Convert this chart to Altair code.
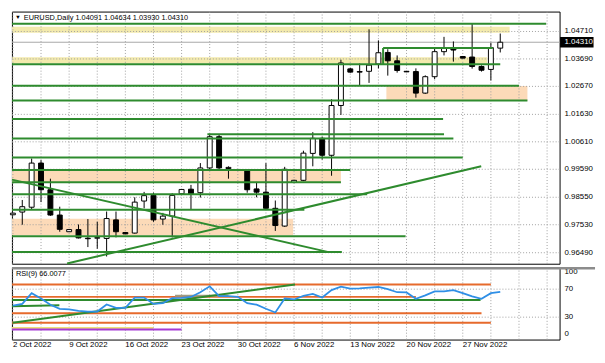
import altair as alt
import pandas as pd

# ---------------- data ----------------
# one bar per trading day incl. the short Sunday bars, 2 Oct 2022 .. 1 Dec 2022
opens = [0.9790, 0.9800, 0.9818, 0.9982, 0.9883, 0.9789,
         0.9727, 0.9735, 0.9703, 0.9703, 0.9702, 0.9771,
         0.9724, 0.9722, 0.9841, 0.9862, 0.9774, 0.9785,
         0.9868, 0.9885, 0.9872, 0.9964, 1.0080, 0.9962,
         0.9958, 0.9955, 0.9886, 0.9874, 0.9814, 0.9748,
         0.9910, 0.9918, 1.0018, 1.0074, 1.0011, 1.0196,
         1.0332, 1.0322, 1.0323, 1.0350, 1.0393, 1.0362,
         1.0323, 1.0322, 1.0242, 1.0303, 1.0396, 1.0409,
         1.0378, 1.0376, 1.0341, 1.0330, 1.04091]
highs = [0.9797, 0.9845, 0.9999, 0.9993, 0.9924, 0.9820,
         0.9736, 0.9754, 0.9774, 0.9764, 0.9802, 0.9802,
         0.9725, 0.9855, 0.9875, 0.9872, 0.9797, 0.9870,
         0.9886, 0.9901, 0.9982, 1.0091, 1.0090, 0.9970,
         0.9960, 0.9960, 0.9912, 0.9982, 0.9843, 0.9968,
         0.9920, 1.0028, 1.0097, 1.0080, 1.0219, 1.0366,
         1.0336, 1.0352, 1.0479, 1.0438, 1.0405, 1.0382,
         1.0324, 1.0334, 1.0308, 1.0413, 1.0451, 1.0434,
         1.0379, 1.0500, 1.0345, 1.0429, 1.04634]
lows = [0.9789, 0.9753, 0.9808, 0.9837, 0.9786, 0.9727,
        0.9726, 0.9702, 0.9670, 0.9664, 0.9635, 0.9706,
        0.9718, 0.9720, 0.9814, 0.9764, 0.9753, 0.9706,
        0.9866, 0.9808, 0.9854, 0.9960, 0.9953, 0.9924,
        0.9953, 0.9872, 0.9855, 0.9812, 0.9730, 0.9745,
        0.9909, 0.9915, 0.9970, 0.9995, 0.9935, 1.0161,
        1.0318, 1.0271, 1.0280, 1.0334, 1.0307, 1.0318,
        1.0320, 1.0225, 1.0239, 1.0294, 1.0382, 1.0359,
        1.0371, 1.0333, 1.0322, 1.0289, 1.03930]
closes = [0.9796, 0.9820, 0.9982, 0.9883, 0.9789, 0.9736,
          0.9735, 0.9704, 0.9701, 0.9705, 0.9776, 0.9727,
          0.9719, 0.9837, 0.9861, 0.9771, 0.9785, 0.9862,
          0.9884, 0.9868, 0.9964, 1.0080, 0.9964, 0.9966,
          0.9955, 0.9883, 0.9874, 0.9814, 0.9750, 0.9959,
          0.9918, 1.0019, 1.0074, 1.0011, 1.0196, 1.0354,
          1.0320, 1.0320, 1.0346, 1.0392, 1.0362, 1.0326,
          1.0321, 1.0242, 1.0303, 1.0396, 1.0408, 1.0402,
          1.0372, 1.0341, 1.0327, 1.0411, 1.04310]
rsi_values = [46.4, 49.0, 64.3, 56.7, 47.8, 42.0,
              41.0, 38.9, 38.0, 38.0, 48.2, 43.3,
              43.3, 58.0, 58.0, 49.0, 50.0, 57.1,
              57.5, 58.9, 65.6, 74.0, 60.2, 60.0,
              59.0, 50.0, 47.8, 42.0, 36.7, 56.7,
              55.3, 60.5, 63.3, 58.0, 68.7, 73.6,
              70.9, 71.1, 72.2, 73.1, 70.0, 65.6,
              65.3, 56.2, 61.1, 66.9, 66.9, 68.7,
              64.3, 59.8, 56.2, 64.3, 66.0]
bars = list(range(len(closes)))

price_ticks = [0.96490, 0.97530, 0.98550, 0.99590, 1.00610,
               1.01630, 1.02670, 1.03690, 1.04710]
current_price = 1.04310
date_label_bars = [0, 6, 12, 18, 24, 30, 36, 42, 48]
date_labels = ["2 Oct 2022", "9 Oct 2022", "16 Oct 2022", "23 Oct 2022",
               "30 Oct 2022", "6 Nov 2022", "13 Nov 2022", "20 Nov 2022",
               "27 Nov 2022"]
grid_bars = list(range(0, 58, 3))
rsi_ticks = [100, 70, 30, 0]
rsi_tick_anchor = ["top", "middle", "middle", "bottom"]
rsi_levels = [70, 30]
title_text = "EURUSD,Daily 1.04091 1.04634 1.03930 1.04310"
rsi_title = "RSI(9) 66.0077"

# drawn objects on the price window
green_level_price = [1.04998, 1.04096, 1.03496, 1.02697, 1.02142, 1.01459, 1.00893,
                     1.00730, 1.00026, 0.99561, 0.99110, 0.98659, 0.98090, 0.97104, 0.96514]
green_level_start = [-0.1, 39.5, -0.1, -0.1, -0.1, -0.1, 20.75,
                     -0.1, -0.1, -0.1, -0.1, -0.1, -0.1, -0.1, -0.1]
green_level_end = [56.9, 51.2, 52.0, 54.0, 54.9, 45.9, 46.0,
                   47.0, 48.0, 36.0, 35.0, 37.8, 31.1, 41.9, 35.1]
green_vertical = {"k": [39.5], "p1": [1.04096], "p2": [1.03496]}
zone_low = [1.04661, 1.03523, 1.02129, 0.99099, 0.97139]
zone_high = [1.04883, 1.03749, 1.02684, 0.99540, 0.97756]
zone_start = [-0.1, -0.1, 39.85, -0.1, -0.1]
zone_end = [53.0, 50.6, 54.9, 35.0, 29.9]
zone_kind = ["yellow", "yellow", "peach", "peach", "peach"]
trend_k1 = [-0.1, 5.78]
trend_p1 = [0.99207, 0.96091]
trend_k2 = [33.69, 49.97]
trend_p2 = [0.96511, 0.99700]

# drawn objects on the RSI window
rsi_hline_value = [76.7, 59.0, 35.7, 22.0, 54.4, 14.4, 12.3, 60.7]
rsi_hline_start = [-0.1, -0.1, -0.1, -0.1, -0.1, -0.1, -0.1, 17.3]
rsi_hline_end = [51.0, 43.0, 50.0, 51.0, 49.9, 15.0, 18.0, 23.0]
rsi_hline_kind = ["orange", "orange", "orange", "orange", "green", "yellow",
                  "purple", "olive"]
rsi_trend_k1 = [-0.03, -0.1]
rsi_trend_v1 = [22.0, 45.6]
rsi_trend_k2 = [30.1, 4.96]
rsi_trend_v2 = [76.7, 46.9]

# ---------------- styling ----------------
W = 556
H_MAIN = 256
H_RSI = 73
X_DOMAIN = [-0.103, 58.33]
P_DOMAIN = [0.96081, 1.05449]
R_DOMAIN = [-2.0, 100.7]
FONT = "Liberation Sans"
GREEN = "#2e8b2e"
GRID = "#a0a0a0"
palette = {"yellow": "#f3eaad", "peach": "#fcdab8"}
line_palette = {"orange": "#e66a2c", "green": GREEN, "yellow": "#ebe17a",
                "purple": "#a63ad6", "olive": "#a09a80"}

xs = alt.Scale(domain=X_DOMAIN, nice=False, zero=False, padding=0)
ps = alt.Scale(domain=P_DOMAIN, nice=False, zero=False, padding=0)
rs = alt.Scale(domain=R_DOMAIN, nice=False, zero=False, padding=0)

# ---------------- tables ----------------
candles = pd.DataFrame({"k": bars, "open": opens, "high": highs,
                        "low": lows, "close": closes})
rsi_df = pd.DataFrame({"k": bars, "rsi": rsi_values})
zones_df = pd.DataFrame({"lo": zone_low, "hi": zone_high, "k1": zone_start,
                         "k2": zone_end,
                         "fill": [palette[z] for z in zone_kind]})
green_df = pd.DataFrame({"p": green_level_price, "k1": green_level_start,
                         "k2": green_level_end})
vert_df = pd.DataFrame(green_vertical)
trend_df = pd.DataFrame({"k1": trend_k1, "p1": trend_p1, "k2": trend_k2, "p2": trend_p2})
grid_df = pd.DataFrame({"k": grid_bars})
ptick_df = pd.DataFrame({"p": price_ticks})
cur_df = pd.DataFrame({"p": [current_price]})
date_df = pd.DataFrame({"k": date_label_bars, "label": date_labels})
rsi_tick_df = pd.DataFrame({"v": rsi_ticks, "anchor": rsi_tick_anchor})
rsi_lines_df = pd.DataFrame({"v": rsi_hline_value, "k1": rsi_hline_start,
                             "k2": rsi_hline_end,
                             "c": [line_palette[c] for c in rsi_hline_kind]})
rsi_trend_df = pd.DataFrame({"k1": rsi_trend_k1, "v1": rsi_trend_v1,
                             "k2": rsi_trend_k2, "v2": rsi_trend_v2})
rsi_level_df = pd.DataFrame({"v": rsi_levels})
one = pd.DataFrame({"a": [0]})

X = lambda f: alt.X(f, scale=xs, axis=None)
P = lambda f: alt.Y(f, scale=ps, axis=None)
R = lambda f: alt.Y(f, scale=rs, axis=None)

# ---------------- price window ----------------
zones = alt.Chart(zones_df).mark_rect().encode(
    x=X("k1:Q"), x2="k2:Q", y=P("lo:Q"), y2="hi:Q",
    color=alt.Color("fill:N", scale=None))
vgrid = alt.Chart(grid_df).mark_rule(color=GRID, strokeDash=[1, 2], strokeWidth=1).encode(
    x=X("k:Q"))
hgrid = alt.Chart(ptick_df).mark_rule(color=GRID, strokeDash=[1, 2], strokeWidth=1).encode(
    y=P("p:Q"))
cur_line = alt.Chart(cur_df).mark_rule(color="#a8a8a8", strokeWidth=1).encode(y=P("p:Q"))
wicks = alt.Chart(candles).mark_rule(color="black", strokeWidth=1).encode(
    x=X("k:Q"), y=P("low:Q"), y2="high:Q")
bodies = alt.Chart(candles).mark_bar(size=5, stroke="black", strokeWidth=1).encode(
    x=X("k:Q"), y=P("open:Q"), y2="close:Q",
    fill=alt.condition("datum.close >= datum.open", alt.value("white"), alt.value("black")))
greens = alt.Chart(green_df).mark_rule(color=GREEN, strokeWidth=2).encode(
    x=X("k1:Q"), x2="k2:Q", y=P("p:Q"))
vert = alt.Chart(vert_df).mark_rule(color=GREEN, strokeWidth=2).encode(
    x=X("k:Q"), y=P("p1:Q"), y2="p2:Q")
trends = alt.Chart(trend_df).mark_rule(color=GREEN, strokeWidth=2).encode(
    x=X("k1:Q"), x2="k2:Q", y=P("p1:Q"), y2="p2:Q")
tri = alt.Chart(one).mark_text(text="▼", align="left", baseline="middle",
                               font=FONT, fontSize=6, color="black").encode(
    x=alt.value(3), y=alt.value(6))
title = alt.Chart(pd.DataFrame({"t": [title_text]})).mark_text(
    align="left", baseline="middle", font=FONT, fontSize=7.5, color="black").encode(
    x=alt.value(12), y=alt.value(6.5), text="t:N")
price_labels = alt.Chart(ptick_df).mark_text(
    align="left", baseline="middle", font=FONT, fontSize=8, color="black").encode(
    x=alt.value(W + 5), y=P("p:Q"), text=alt.Text("p:Q", format=".5f"))
box = alt.Chart(cur_df).mark_point(
    shape="M-1,-0.32L1,-0.32L1,0.32L-1,0.32Z", size=34 * 34, filled=True,
    color="black", opacity=1, strokeWidth=0).encode(
    x=alt.value(W + 17.5), y=P("p:Q"))
box_text = alt.Chart(cur_df).mark_text(align="left", baseline="middle", font=FONT,
                                       fontSize=8, color="white").encode(
    x=alt.value(W + 5), y=P("p:Q"), text=alt.Text("p:Q", format=".5f"))

main = alt.layer(zones, vgrid, hgrid, cur_line, wicks, bodies, greens, vert,
                 trends, tri, title, price_labels, box, box_text).properties(
    width=W, height=H_MAIN)

# ---------------- RSI window ----------------
vgrid_r = alt.Chart(grid_df).mark_rule(color=GRID, strokeDash=[1, 2], strokeWidth=1).encode(
    x=X("k:Q"))
levels = alt.Chart(rsi_level_df).mark_rule(color=GRID, strokeDash=[1, 2], strokeWidth=1).encode(
    y=R("v:Q"))
rsi_lines = alt.Chart(rsi_lines_df).mark_rule(strokeWidth=2).encode(
    x=X("k1:Q"), x2="k2:Q", y=R("v:Q"), color=alt.Color("c:N", scale=None))
rsi_trends = alt.Chart(rsi_trend_df).mark_rule(color=GREEN, strokeWidth=2).encode(
    x=X("k1:Q"), x2="k2:Q", y=R("v1:Q"), y2="v2:Q")
rsi_line = alt.Chart(rsi_df).mark_line(color="#2f8fe6", strokeWidth=1.8).encode(
    x=X("k:Q"), y=R("rsi:Q"))
rsi_text = alt.Chart(pd.DataFrame({"t": [rsi_title]})).mark_text(
    align="left", baseline="middle", font=FONT, fontSize=7.5, color="black").encode(
    x=alt.value(4), y=alt.value(6), text="t:N")
rsi_label_layers = [
    alt.Chart(rsi_tick_df).transform_filter(f"datum.anchor == '{a}'").mark_text(
        align="left", baseline=a, font=FONT, fontSize=8, color="black").encode(
        x=alt.value(W + 5), y=R("v:Q"), text="v:N")
    for a in ["top", "middle", "bottom"]]
date_text = alt.Chart(date_df).mark_text(
    align="left", baseline="top", font=FONT, fontSize=8, color="black").encode(
    x=X("k:Q"), y=alt.value(H_RSI + 2), text="label:N")
separator = alt.Chart(one).mark_rule(color="#8c8c8c", strokeWidth=2.5).encode(
    x=alt.value(0), x2=alt.value(W + 36), y=alt.value(0.5))

rsi = alt.layer(vgrid_r, levels, rsi_lines, rsi_trends, rsi_line, rsi_text,
                *rsi_label_layers, date_text, separator).properties(width=W, height=H_RSI)

chart = alt.vconcat(main, rsi, spacing=0).properties(padding=0).configure_view(
    stroke="black", strokeWidth=1)

chart.save("out.html", embed_options={"renderer": "svg", "actions": False})
